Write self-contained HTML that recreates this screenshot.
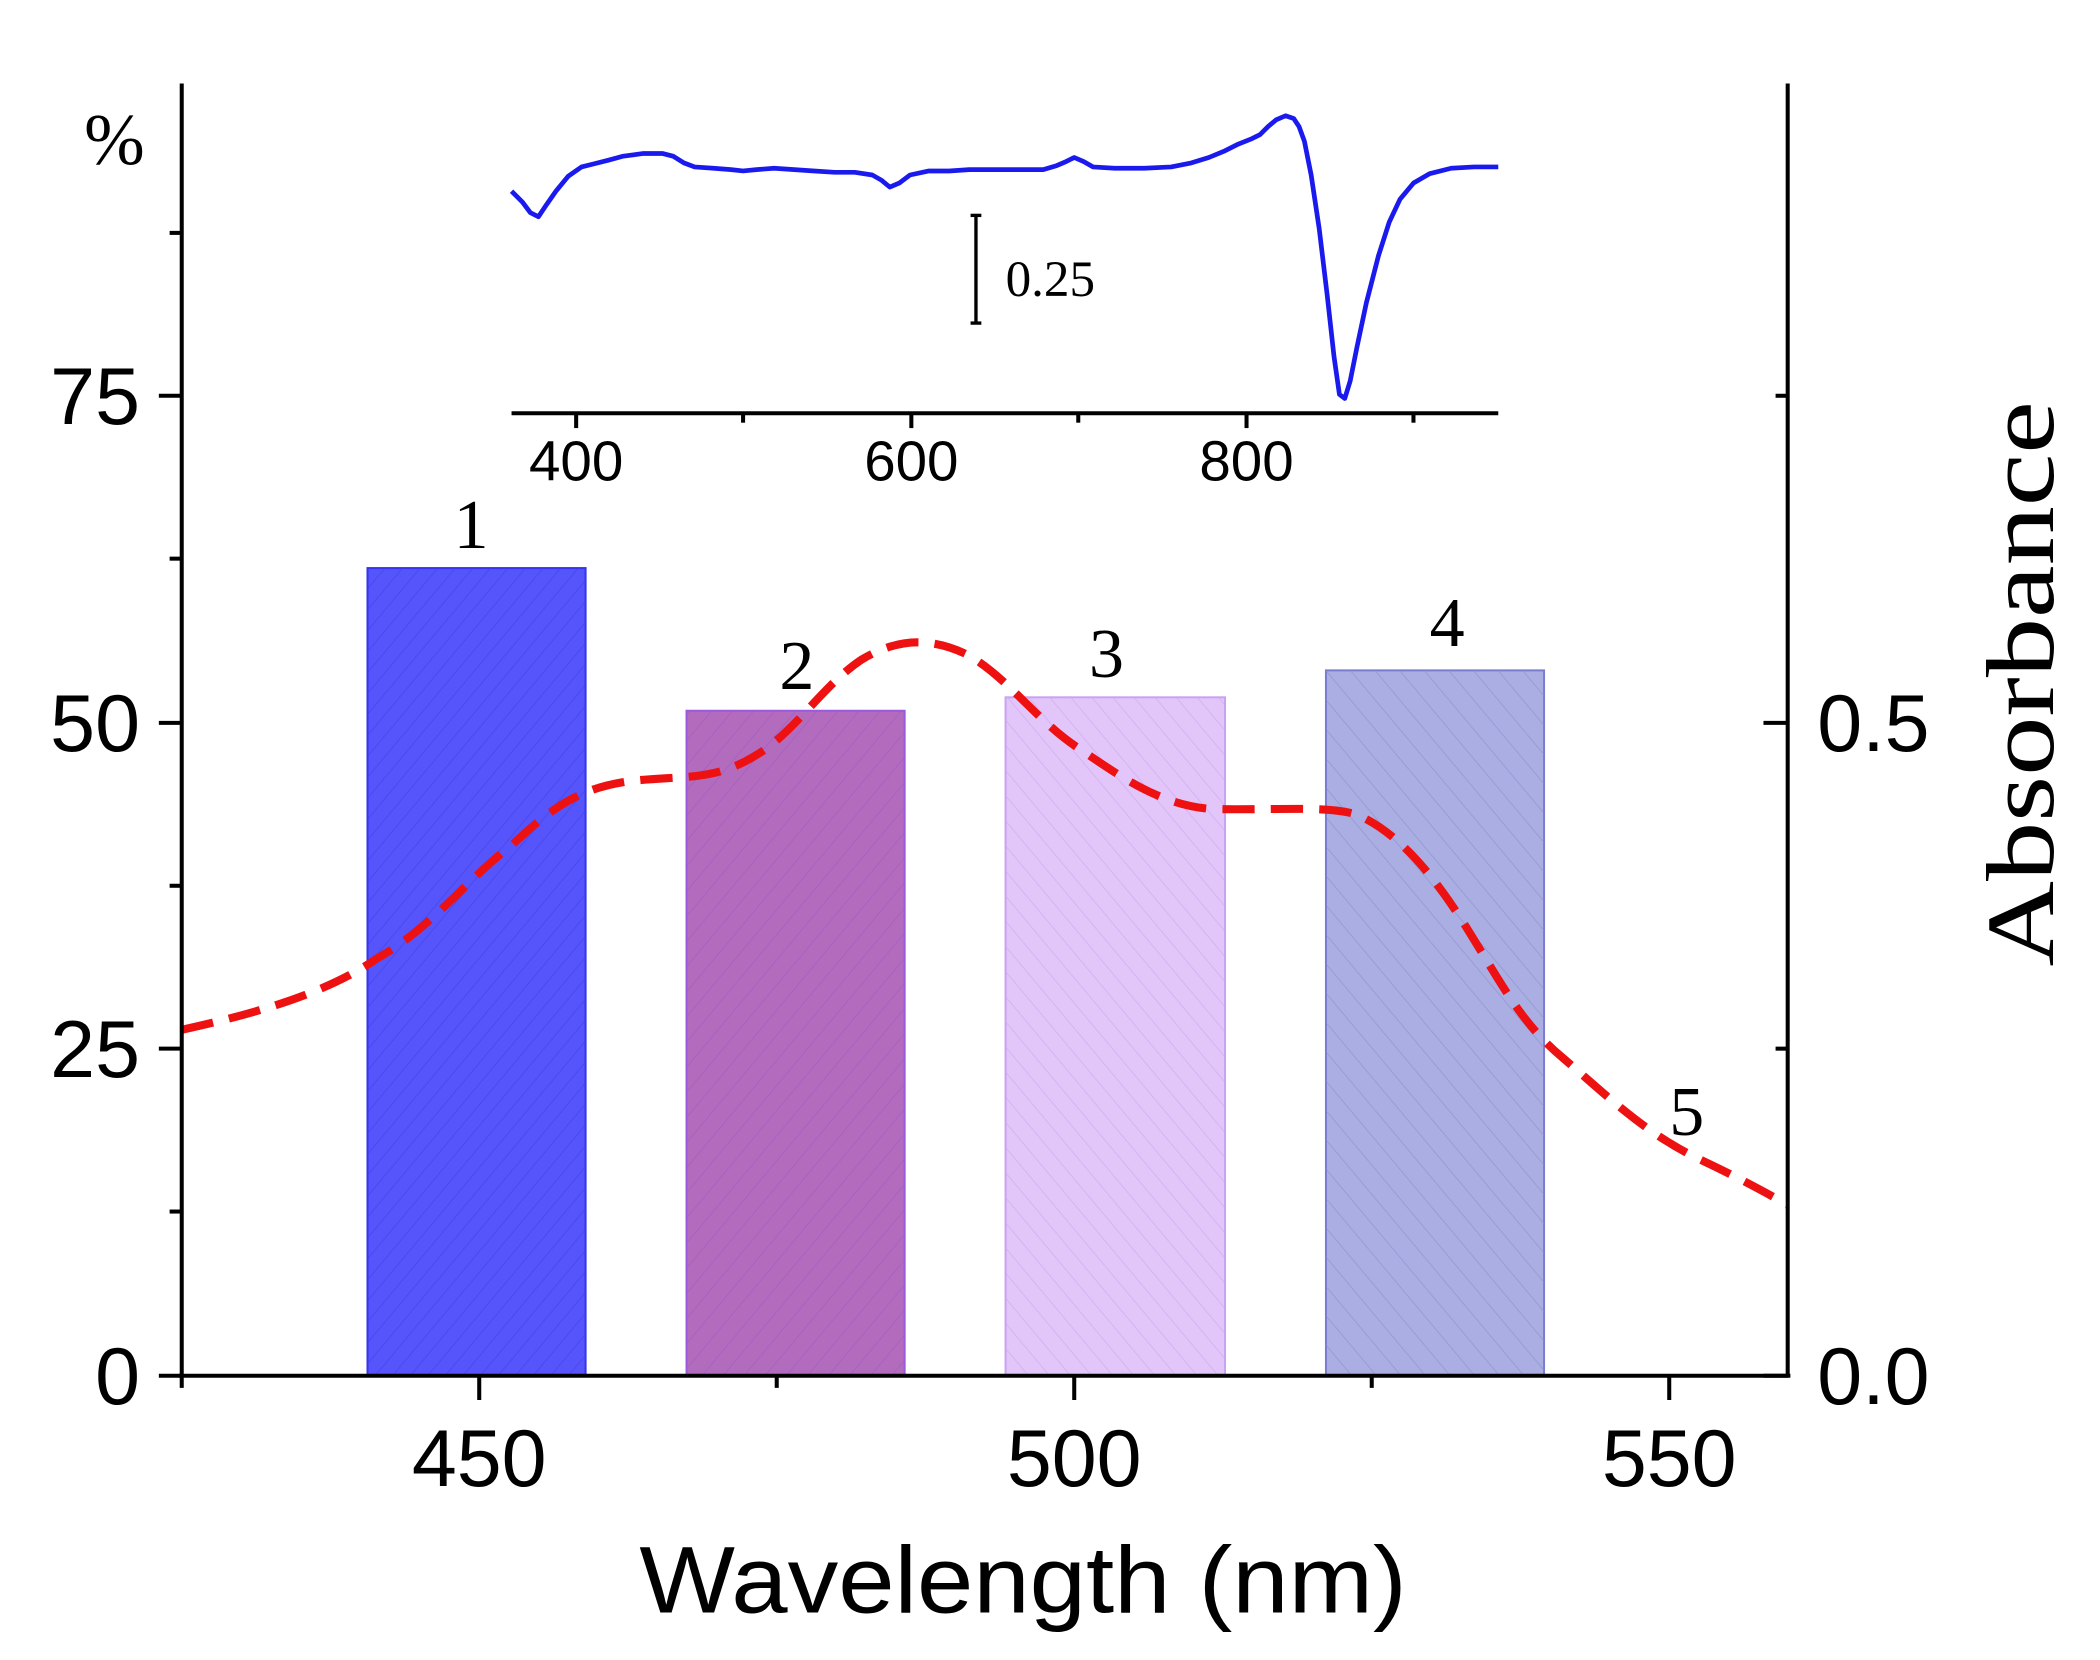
<!DOCTYPE html>
<html><head><meta charset="utf-8"><style>html,body{margin:0;padding:0;background:#fff}svg{display:block}</style></head>
<body>
<svg width="2100" height="1660" viewBox="0 0 1560 1233.14" xmlns="http://www.w3.org/2000/svg">
<defs>
<pattern id="h1" patternUnits="userSpaceOnUse" width="10" height="10" patternTransform="rotate(40)"><line x1="0" y1="0" x2="0" y2="10" stroke="#3c3ce0" stroke-width="1.2" opacity="0.6"/></pattern>
<pattern id="h2" patternUnits="userSpaceOnUse" width="12" height="12" patternTransform="rotate(40)"><line x1="0" y1="0" x2="0" y2="12" stroke="#9a55c8" stroke-width="1.2" opacity="0.6"/></pattern>
<pattern id="h3" patternUnits="userSpaceOnUse" width="12" height="12" patternTransform="rotate(-40)"><line x1="0" y1="0" x2="0" y2="12" stroke="#c9a6ee" stroke-width="1.2" opacity="0.7"/></pattern>
<pattern id="h4" patternUnits="userSpaceOnUse" width="14" height="14" patternTransform="rotate(-40)"><line x1="0" y1="0" x2="0" y2="14" stroke="#8b8fcc" stroke-width="1.2" opacity="0.7"/></pattern>
</defs>
<rect width="1560" height="1234" fill="#fff"/>
<rect x="273" y="422" width="162" height="600" fill="#5555fb" stroke="#3535ee" stroke-width="1.5"/>
<rect x="273" y="422" width="162" height="600" fill="url(#h1)"/>
<rect x="510" y="528" width="162" height="494" fill="#b36cbd" stroke="#9b59dc" stroke-width="1.5"/>
<rect x="510" y="528" width="162" height="494" fill="url(#h2)"/>
<rect x="747" y="518" width="163" height="504" fill="#e2c6fa" stroke="#caa2f2" stroke-width="1.5"/>
<rect x="747" y="518" width="163" height="504" fill="url(#h3)"/>
<rect x="985" y="498" width="162" height="524" fill="#abaee2" stroke="#7a7cd0" stroke-width="1.5"/>
<rect x="985" y="498" width="162" height="524" fill="url(#h4)"/>
<path d="M135,765 C180,755 240,740 280,712 C320,690 350,650 380,628 C410,600 430,585 470,580 C510,576 530,580 560,562 C590,545 610,510 640,490 C665,475 690,472 720,487 C750,505 770,535 800,555 C830,575 860,598 900,601 C950,602 990,598 1010,606 C1040,620 1065,650 1090,690 C1115,730 1130,760 1160,785 C1195,815 1220,840 1260,860 C1290,874 1310,885 1328,895" fill="none" stroke="#ee1111" stroke-width="6" stroke-dasharray="24,12"/>
<g stroke="#000" stroke-width="3" fill="none">
<line x1="135" y1="62" x2="135" y2="1023"/>
<line x1="1328" y1="62" x2="1328" y2="1023"/>
<line x1="133" y1="1022" x2="1330" y2="1022"/>
<line x1="118" y1="1022" x2="135" y2="1022"/>
<line x1="118" y1="779" x2="135" y2="779"/>
<line x1="118" y1="537" x2="135" y2="537"/>
<line x1="118" y1="294" x2="135" y2="294"/>
<line x1="126" y1="900" x2="135" y2="900"/>
<line x1="126" y1="658" x2="135" y2="658"/>
<line x1="126" y1="415" x2="135" y2="415"/>
<line x1="126" y1="173" x2="135" y2="173"/>
<line x1="1310" y1="537" x2="1328" y2="537"/>
<line x1="1319" y1="779" x2="1328" y2="779"/>
<line x1="1319" y1="294" x2="1328" y2="294"/>
<line x1="1310" y1="1022" x2="1328" y2="1022"/>
<line x1="356" y1="1022" x2="356" y2="1040"/>
<line x1="798" y1="1022" x2="798" y2="1040"/>
<line x1="1240" y1="1022" x2="1240" y2="1040"/>
<line x1="577" y1="1022" x2="577" y2="1031"/>
<line x1="1019" y1="1022" x2="1019" y2="1031"/>
<line x1="135" y1="1022" x2="135" y2="1031"/>
</g>
<g font-family="Liberation Sans, Arial, sans-serif" font-size="60" fill="#000">
<text x="104" y="1043" text-anchor="end">0</text>
<text x="104" y="800" text-anchor="end">25</text>
<text x="104" y="558" text-anchor="end">50</text>
<text x="104" y="315" text-anchor="end">75</text>
<text x="1350" y="1043">0.0</text>
<text x="1350" y="558">0.5</text>
<text x="356" y="1104" text-anchor="middle">450</text>
<text x="798" y="1104" text-anchor="middle">500</text>
<text x="1240" y="1104" text-anchor="middle">550</text>
<text x="760" y="1198" text-anchor="middle" font-size="70" textLength="570" lengthAdjust="spacingAndGlyphs">Wavelength (nm)</text>
</g>
<g font-family="Liberation Serif, Times New Roman, serif" fill="#000">
<text x="85" y="122" text-anchor="middle" font-size="54">%</text>
<text transform="translate(1525,508) rotate(-90)" text-anchor="middle" font-size="72" textLength="420" lengthAdjust="spacingAndGlyphs">Absorbance</text>
<text x="350" y="407" text-anchor="middle" font-size="52">1</text>
<text x="592" y="512" text-anchor="middle" font-size="52">2</text>
<text x="822" y="503" text-anchor="middle" font-size="52">3</text>
<text x="1075" y="480" text-anchor="middle" font-size="52">4</text>
<text x="1253" y="843" text-anchor="middle" font-size="52">5</text>
<text x="747" y="220" font-size="38">0.25</text>
</g>
<g stroke="#000" stroke-width="3" fill="none">
<line x1="380" y1="307" x2="1113" y2="307"/>
<line x1="428" y1="307" x2="428" y2="318"/>
<line x1="677" y1="307" x2="677" y2="318"/>
<line x1="926" y1="307" x2="926" y2="318"/>
<line x1="552" y1="307" x2="552" y2="314"/>
<line x1="801" y1="307" x2="801" y2="314"/>
<line x1="1050" y1="307" x2="1050" y2="314"/>
<line x1="725" y1="160" x2="725" y2="240" stroke-width="2.5"/>
<line x1="721" y1="160" x2="729" y2="160" stroke-width="2.5"/>
<line x1="721" y1="240" x2="729" y2="240" stroke-width="2.5"/>
</g>
<g font-family="Liberation Sans, Arial, sans-serif" font-size="42" fill="#000" text-anchor="middle">
<text x="428" y="357">400</text>
<text x="677" y="357">600</text>
<text x="926" y="357">800</text>
</g>
<path d="M380,142 L388,150 L394,158 L400,161 L406,152 L413,142 L422,131 L432,124 L440,122 L452,119 L463,116 L478,114 L492,114 L500,116 L508,121 L516,124 L530,125 L543,126 L552,127 L562,126 L575,125 L590,126 L605,127 L620,128 L635,128 L648,130 L655,134 L661,139 L668,136 L676,130 L690,127 L705,127 L720,126 L740,126 L760,126 L775,126 L785,123 L792,120 L798,117 L805,120 L812,124 L828,125 L850,125 L870,124 L885,121 L898,117 L910,112 L920,107 L930,103 L936,100 L942,94 L948,89 L955,86 L961,88 L965,94 L969,105 L974,130 L980,170 L986,220 L991,265 L995,293 L999,296 L1003,283 L1008,258 L1015,225 L1024,190 L1032,165 L1040,148 L1050,136 L1062,129 L1078,125 L1095,124 L1113,124" fill="none" stroke="#1a1aee" stroke-width="3.5" stroke-linejoin="round"/>
</svg>
</body></html>
